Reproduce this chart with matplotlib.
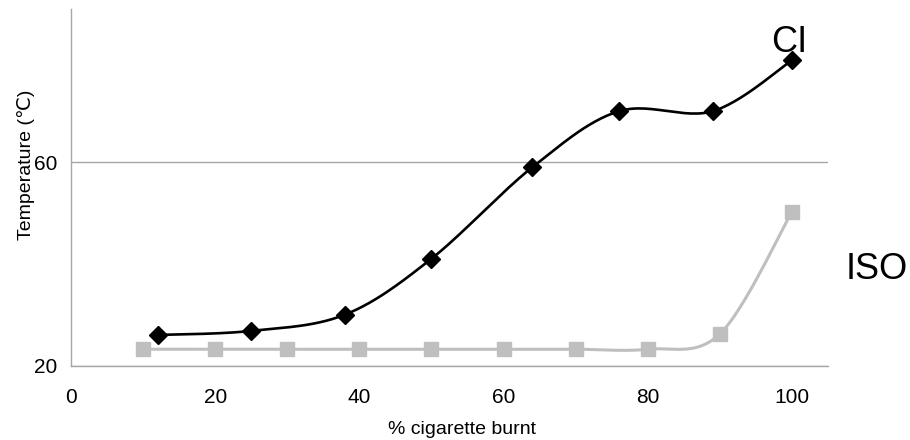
import numpy as np
import matplotlib
matplotlib.use('Agg')
from matplotlib import pyplot as plt

plt.rcParams['font.family'] = ['Liberation Sans', 'DejaVu Sans']

ci_x = [12, 25, 38, 50, 64, 76, 89, 100]
ci_y = [26.0, 26.8, 30.0, 41.0, 59.0, 70.0, 70.0, 80.0]
iso_x = [10, 20, 30, 40, 50, 60, 70, 80, 90, 100]
iso_y = [23.2, 23.2, 23.2, 23.2, 23.2, 23.2, 23.2, 23.2, 26.2, 50.2]
x_ticks = [0, 20, 40, 60, 80, 100]
y_ticks = [20, 60]


def smooth(xs, ys, n=30):
    # Excel-style smoothed line: cubic Bezier through the points
    p = np.column_stack([xs, ys]).astype(float)
    out = [p[0]]
    for i in range(len(p) - 1):
        p0 = p[i - 1] if i > 0 else p[i]
        p3 = p[i + 2] if i + 2 < len(p) else p[i + 1]
        c1 = p[i] + (p[i + 1] - p0) / 6
        c2 = p[i + 1] - (p3 - p[i]) / 6
        t = np.linspace(0, 1, n)[1:, None]
        seg = ((1 - t) ** 3 * p[i] + 3 * (1 - t) ** 2 * t * c1
               + 3 * (1 - t) * t ** 2 * c2 + t ** 3 * p[i + 1])
        out.extend(seg)
    out = np.array(out)
    return out[:, 0], out[:, 1]


fig = plt.figure(figsize=(9.1, 4.4), dpi=100)
ax = fig.add_axes([71 / 910, 1 - 365.5 / 440, (828 - 71) / 910, (365.5 - 9.5) / 440])

sx, sy = smooth(iso_x, iso_y)
ax.plot(sx, sy, color='#bfbfbf', lw=2.2, zorder=2)
ax.plot(iso_x, iso_y, ls='none', marker='s', ms=10.5, color='#bfbfbf', zorder=3)

sx, sy = smooth(ci_x, ci_y)
ax.plot(sx, sy, color='black', lw=1.9, zorder=4)
ax.plot(ci_x, ci_y, ls='none', marker='D', ms=9, color='black', zorder=5)

ax.set_xlim(0, 105)
ax.set_ylim(20, 90)
ax.set_xticks(x_ticks)
ax.set_yticks(y_ticks)
ax.tick_params(length=0, labelsize=15, pad=16)
ax.tick_params(axis='y', pad=10)
ax.grid(axis='y', color='#a6a6a6', lw=1)
ax.set_axisbelow(True)
for s in ['top', 'right']:
    ax.spines[s].set_visible(False)
for s in ['left', 'bottom']:
    ax.spines[s].set_color('#a6a6a6')
    ax.spines[s].set_linewidth(1)

ax.set_xlabel('% cigarette burnt', fontsize=14)
ax.xaxis.set_label_coords(0.516, -0.155)
ax.set_ylabel('Temperature (℃)', fontsize=14)
ax.yaxis.set_label_coords(-0.0475, 0.565)

ax.text(97.1, 81.6, 'CI', fontsize=26, clip_on=False)
ax.text(107.5, 37.0, 'ISO', fontsize=26, clip_on=False)

fig.savefig('out.png', dpi=100)
